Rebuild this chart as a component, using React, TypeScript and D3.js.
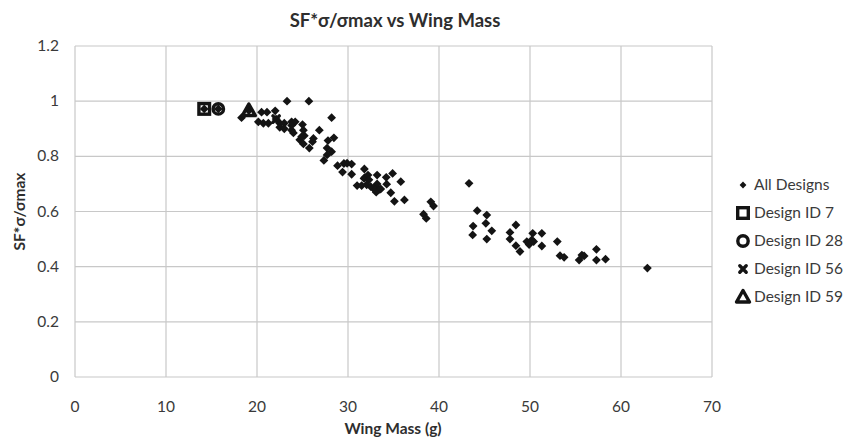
import React from "react";
import * as d3 from "d3";

// All evaluated designs: wing mass (g) and SF*σ/σmax
const allMass = [
  14.2, 15.75, 18.3, 19.1, 20.5, 21.1, 22.0, 23.3, 25.7, 20.15, 20.7, 21.25, 22.1, 22.5,
  23.0, 23.8, 24.2, 22.5, 23.0, 23.8, 24.0, 23.8, 25.0, 25.1, 25.2, 24.7, 24.9, 26.2,
  25.1, 25.75, 28.2, 26.85, 27.8, 28.45, 27.7, 28.2, 27.35, 28.85, 26.1, 27.7, 29.55,
  29.9, 30.4, 29.4, 30.4, 31.8, 34.9, 31.85, 31.76, 32.2, 33.2, 34.2, 32.3, 31.0, 31.5,
  32.05, 32.5, 33.0, 33.2, 32.8, 33.5, 33.0, 33.1, 33.6, 34.25, 35.8, 34.7, 35.1, 36.2,
  39.1, 39.4, 38.3, 38.6, 43.3, 44.2, 45.25, 45.15, 43.75, 43.7, 45.25, 45.8, 48.45,
  47.8, 47.8, 48.45, 48.9, 49.65, 49.9, 50.2, 50.4, 50.3, 51.3, 51.3, 53.0, 53.3, 53.75,
  55.4, 55.7, 55.95, 57.3, 57.3, 58.3, 62.9,
];
const allRatio = [
  0.972, 0.972, 0.94, 0.966, 0.96, 0.96, 0.965, 1.0, 1.0, 0.925, 0.92, 0.92, 0.935, 0.92,
  0.92, 0.925, 0.925, 0.905, 0.9, 0.895, 0.885, 0.912, 0.915, 0.895, 0.875, 0.86, 0.871,
  0.865, 0.845, 0.83, 0.94, 0.895, 0.857, 0.867, 0.83, 0.817, 0.785, 0.766, 0.853, 0.805,
  0.774, 0.775, 0.772, 0.743, 0.735, 0.754, 0.738, 0.723, 0.72, 0.732, 0.732, 0.724,
  0.715, 0.694, 0.694, 0.697, 0.69, 0.69, 0.7, 0.684, 0.68, 0.678, 0.67, 0.682, 0.699,
  0.708, 0.668, 0.637, 0.642, 0.635, 0.62, 0.59, 0.575, 0.702, 0.603, 0.587, 0.557,
  0.547, 0.515, 0.5, 0.53, 0.551, 0.524, 0.5, 0.476, 0.455, 0.491, 0.48, 0.497, 0.491,
  0.521, 0.521, 0.475, 0.491, 0.44, 0.434, 0.424, 0.442, 0.439, 0.463, 0.424, 0.427, 0.395,
];

// Highlighted designs
const designNames = ["Design ID 7", "Design ID 28", "Design ID 56", "Design ID 59"];
const designMass = [14.2, 15.75, 22.1, 19.1];
const designRatio = [0.972, 0.972, 0.935, 0.966];
const designShapes = ["square", "circle", "cross", "triangle"];

const xTicks = [0, 10, 20, 30, 40, 50, 60, 70];
const yTicks = [0, 0.2, 0.4, 0.6, 0.8, 1, 1.2];

const W = 859;
const H = 439;
const FONT = "Lato, 'Liberation Sans', sans-serif";
const GRID = "#c8c8c8";
const INK = "#141414";
const TEXT = "#3a3a3a";

const x = d3.scaleLinear().domain([0, 70]).range([75, 712]);
const y = d3.scaleLinear().domain([0, 1.2]).range([377, 46]);

function diamond(cx: number, cy: number, r = 4.4) {
  return `M${cx},${cy - r}L${cx + r},${cy}L${cx},${cy + r}L${cx - r},${cy}Z`;
}

function Marker({ shape, cx, cy }: { shape: string; cx: number; cy: number }) {
  const sw = 3.4;
  if (shape === "square") {
    return <rect x={cx - 5.3} y={cy - 5.3} width={10.6} height={10.6} fill="none" stroke={INK} strokeWidth={sw} />;
  }
  if (shape === "circle") {
    return <circle cx={cx} cy={cy} r={5.2} fill="none" stroke={INK} strokeWidth={sw} />;
  }
  if (shape === "triangle") {
    const tri = d3.path();
    tri.moveTo(cx, cy - 6.5);
    tri.lineTo(cx + 6.5, cy + 5);
    tri.lineTo(cx - 6.5, cy + 5);
    tri.closePath();
    return <path d={tri.toString()} fill="none" stroke={INK} strokeWidth={sw} strokeLinejoin="round" />;
  }
  // bold cross
  const r = 3.2;
  return (
    <path
      d={`M${cx - r},${cy - r}L${cx + r},${cy + r}M${cx + r},${cy - r}L${cx - r},${cy + r}`}
      stroke={INK}
      strokeWidth={3.4}
      strokeLinecap="round"
    />
  );
}

export default function App() {
  const legendX = 743;
  const legendY0 = 185;
  const legendStep = 28;

  return (
    <svg
      width={W}
      height={H}
      viewBox={`0 0 ${W} ${H}`}
      style={{ position: "absolute", left: 0, top: 0, background: "#fff" }}
      fontFamily={FONT}
    >
      <rect width={W} height={H} fill="#fff" />

      {/* grid */}
      {xTicks.map((t) => (
        <line key={`gx${t}`} x1={x(t)} x2={x(t)} y1={y(1.2)} y2={y(0)} stroke={GRID} strokeWidth={1.2} />
      ))}
      {yTicks.map((t) => (
        <line key={`gy${t}`} x1={x(0)} x2={x(70)} y1={y(t)} y2={y(t)} stroke={GRID} strokeWidth={1.2} />
      ))}

      {/* tick labels */}
      {xTicks.map((t) => (
        <text key={`tx${t}`} x={x(t)} y={412} fontSize={15.5} fill={TEXT} textAnchor="middle">
          {t}
        </text>
      ))}
      {yTicks.map((t) => (
        <text key={`ty${t}`} x={59} y={y(t) + 5} fontSize={15.5} fill={TEXT} textAnchor="end">
          {d3.format("~g")(t)}
        </text>
      ))}

      {/* titles */}
      <text x={395} y={27} fontSize={18.5} fontWeight="bold" fill="#2e2e2e" textAnchor="middle">
        SF*σ/σmax vs Wing Mass
      </text>
      <text x={393} y={434} fontSize={15.5} fontWeight="bold" fill="#2e2e2e" textAnchor="middle">
        Wing Mass (g)
      </text>
      <text
        transform={`translate(25,${(y(0) + y(1.2)) / 2}) rotate(-90)`}
        fontSize={15.5}
        fontWeight="bold"
        fill="#2e2e2e"
        textAnchor="middle"
      >
        SF*σ/σmax
      </text>

      {/* all designs */}
      {allMass.map((m, i) => (
        <path key={`p${i}`} d={diamond(x(m), y(allRatio[i]))} fill={INK} />
      ))}

      {/* highlighted designs */}
      {designMass.map((m, i) => (
        <Marker key={`d${i}`} shape={designShapes[i]} cx={x(m)} cy={y(designRatio[i])} />
      ))}

      {/* legend */}
      <g>
        <path d={diamond(legendX, legendY0, 3.4)} fill={INK} />
        <text x={754} y={legendY0 + 5} fontSize={15.5} fill={TEXT}>
          All Designs
        </text>
        {designNames.map((name, i) => {
          const ly = legendY0 + legendStep * (i + 1);
          return (
            <g key={name}>
              <Marker shape={designShapes[i]} cx={legendX} cy={ly} />
              <text x={754} y={ly + 5} fontSize={15.5} fill={TEXT}>
                {name}
              </text>
            </g>
          );
        })}
      </g>
    </svg>
  );
}
